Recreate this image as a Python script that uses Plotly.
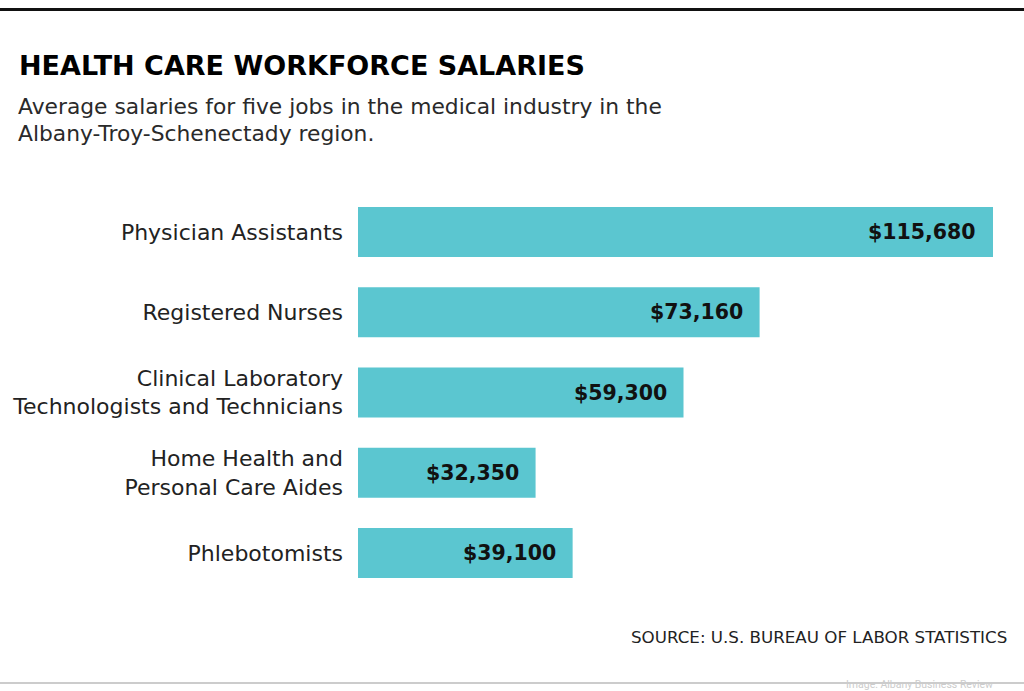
import plotly.graph_objects as go

categories = [
    "Physician Assistants",
    "Registered Nurses",
    "Clinical Laboratory<br>Technologists and Technicians",
    "Home Health and<br>Personal Care Aides",
    "Phlebotomists",
]
salaries = [115680, 73160, 59300, 32350, 39100]
value_labels = ["$115,680", "$73,160", "$59,300", "$32,350", "$39,100"]

title_text = "HEALTH CARE WORKFORCE SALARIES"
subtitle_1 = "Average salaries for five jobs in the medical industry in the"
subtitle_2 = "Albany-Troy-Schenectady region."
source_text = "SOURCE: U.S. BUREAU OF LABOR STATISTICS"
credit_text = "Image: Albany Business Review"

W, H = 1024, 691
L, R = 358, 993
T, B = 192, 593
pw, ph = R - L, B - T


def px(x):
    return (x - L) / pw


def py(y):
    return (B - y) / ph


fig = go.Figure(
    go.Bar(
        x=salaries,
        y=categories,
        orientation="h",
        marker=dict(color="#5BC6D0", line=dict(width=0)),
        width=0.623,
        hoverinfo="skip",
    )
)

annotations = []
for cat, val, lab in zip(categories, salaries, value_labels):
    annotations.append(
        dict(
            x=val, y=cat, xref="x", yref="y", text=lab, showarrow=False,
            xanchor="right", yanchor="middle", xshift=-15,
            font=dict(family="DejaVu Sans", size=20.5, color="#111111", weight="bold"),
        )
    )

annotations += [
    dict(x=px(17), y=py(65), xref="paper", yref="paper", text=title_text,
         showarrow=False, xanchor="left", yanchor="middle",
         font=dict(family="DejaVu Sans", size=27, color="#000000", weight="bold")),
    dict(x=px(16), y=py(106), xref="paper", yref="paper", text=subtitle_1,
         showarrow=False, xanchor="left", yanchor="middle",
         font=dict(family="DejaVu Sans", size=21.8, color="#2a2a2a")),
    dict(x=px(16), y=py(134), xref="paper", yref="paper", text=subtitle_2,
         showarrow=False, xanchor="left", yanchor="middle",
         font=dict(family="DejaVu Sans", size=21.8, color="#2a2a2a")),
    dict(x=px(1009), y=py(637), xref="paper", yref="paper", text=source_text,
         showarrow=False, xanchor="right", yanchor="middle",
         font=dict(family="DejaVu Sans", size=16.7, color="#222222")),
    dict(x=px(995), y=py(684), xref="paper", yref="paper", text=credit_text,
         showarrow=False, xanchor="right", yanchor="middle",
         font=dict(family="Roboto", size=10.5, color="#cccccc")),
]

shapes = [
    dict(type="line", xref="paper", yref="paper", x0=px(0), x1=px(W),
         y0=py(9.5), y1=py(9.5), line=dict(color="#111111", width=3)),
    dict(type="line", xref="paper", yref="paper", x0=px(0), x1=px(W),
         y0=py(683), y1=py(683), line=dict(color="#bbbbbb", width=1.5)),
]

fig.update_layout(
    width=W, height=H,
    margin=dict(l=L, r=W - R, t=T, b=H - B, pad=0),
    paper_bgcolor="white", plot_bgcolor="white",
    showlegend=False,
    xaxis=dict(range=[0, salaries[0]], visible=False, fixedrange=True),
    yaxis=dict(
        autorange="reversed", showgrid=False, zeroline=False, showline=False,
        ticks="", ticklabelstandoff=14,
        tickfont=dict(family="DejaVu Sans", size=22, color="#222222"),
        fixedrange=True,
    ),
    annotations=annotations,
    shapes=shapes,
)

fig.write_html(
    "out.html",
    config={"displayModeBar": False},
    post_script="document.body.style.margin='0';document.body.style.overflow='hidden';",
)
